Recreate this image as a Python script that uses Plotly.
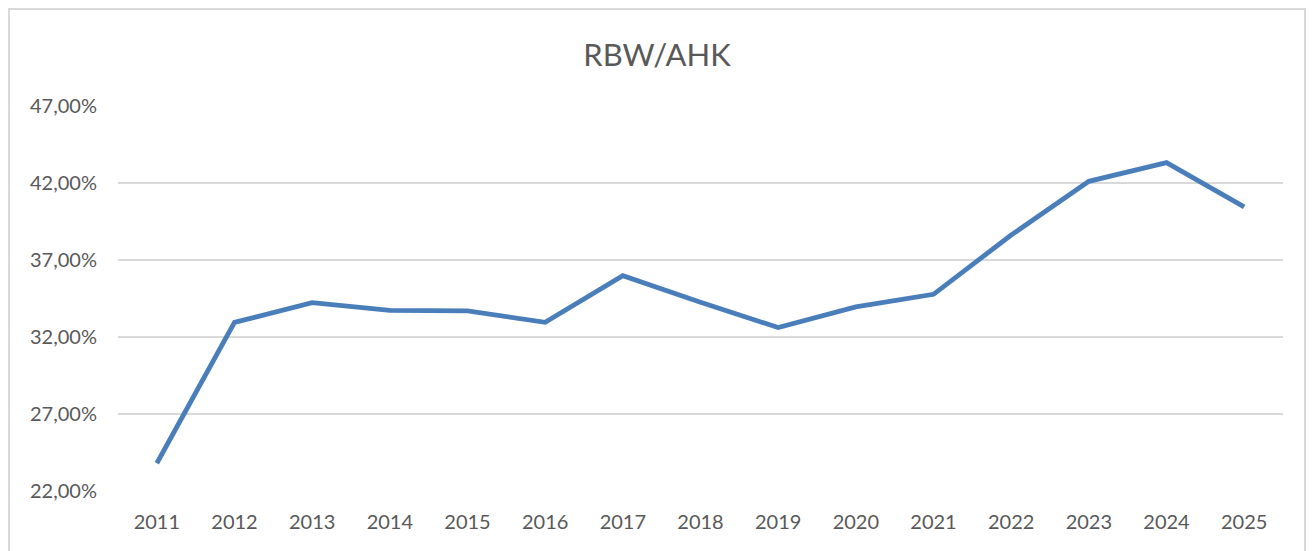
import plotly.graph_objects as go

years = ["2011", "2012", "2013", "2014", "2015", "2016", "2017", "2018",
         "2019", "2020", "2021", "2022", "2023", "2024", "2025"]
ratio_pct = [23.8, 32.95, 34.23, 33.73, 33.7, 32.95, 35.98, 34.25,
             32.61, 33.95, 34.77, 38.62, 42.11, 43.32, 40.45]
y_tick_vals = [22, 27, 32, 37, 42, 47]
y_tick_text = ["22,00%", "27,00%", "32,00%", "37,00%", "42,00%", "47,00%"]

FONT = "Lato, 'Liberation Sans', sans-serif"
GREY_TXT = "#595959"
GRID = "#d9d9d9"

W, H = 1298, 543
L, R, T, B = 110, 23, 98, 60
PW, PH = W - L - R, H - T - B

fig = go.Figure()
fig.add_trace(go.Scatter(
    x=years, y=ratio_pct, mode="lines",
    line=dict(color="#4a7ebb", width=4.8),
    showlegend=False, hoverinfo="x+y",
))

fig.update_layout(
    width=W, height=H,
    paper_bgcolor="white", plot_bgcolor="white",
    margin=dict(l=L, r=R, t=T, b=B),
    title=dict(text="RBW/AHK", x=0.5, xanchor="center",
               y=1 - 47 / H, yanchor="middle",
               font=dict(family=FONT, size=31, color=GREY_TXT)),
    font=dict(family=FONT, color=GREY_TXT),
    xaxis=dict(type="category", range=[-0.5, len(years) - 0.5],
               showgrid=False, zeroline=False, showline=False,
               ticks="", tickfont=dict(size=20, color=GREY_TXT),
               ticklabelstandoff=17),
    yaxis=dict(range=[22, 47], tickvals=y_tick_vals, ticktext=y_tick_text,
               showgrid=True, gridcolor=GRID, gridwidth=1.5, zeroline=False,
               showline=False, ticks="", tickfont=dict(size=20, color=GREY_TXT),
               ticklabelstandoff=20),
    shapes=[dict(type="rect", xref="paper", yref="paper",
                 x0=-(L - 1) / PW, x1=1 + (R - 1) / PW,
                 y0=-(B + 20) / PH, y1=1 + (T - 1) / PH,
                 line=dict(color=GRID, width=2), fillcolor="rgba(0,0,0,0)",
                 layer="below")],
)

fig.write_html("out.html")
